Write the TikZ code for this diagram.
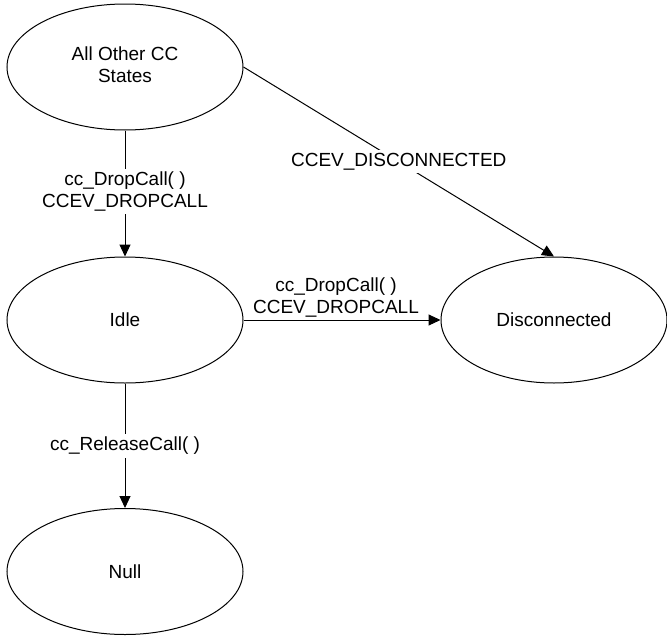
\documentclass[tikz,border=0pt]{standalone}
\usepackage{fontspec}
\setmainfont{Liberation Sans}
\usetikzlibrary{shapes.geometric,arrows.meta}
\begin{document}
\begin{tikzpicture}[x=1pt,y=-1pt,
  state/.style={draw=black,line width=1pt,ellipse,minimum width=236pt,minimum height=126pt,inner sep=0pt,align=center,font=\fontsize{19}{22}\selectfont},
  arr/.style={draw=black,line width=1pt,-{Triangle[length=12pt,width=11pt]}},
  lbl/.style={fill=white,inner sep=3pt,align=center,font=\fontsize{19}{22}\selectfont},
  lblabove/.style={inner sep=2pt,align=center,font=\fontsize{19}{22}\selectfont}]
\useasboundingbox (0,0) rectangle (667,637);
\node[state] (A) at (125,67) {\raisebox{-6pt}{\begin{tabular}{@{}c@{}}All Other CC\\States\end{tabular}}};
\node[state] (I) at (125,320) {Idle};
\node[state,minimum width=226pt] (D) at (554,320) {Disconnected};
\node[state] (N) at (125,571.5) {Null};
\draw[arr] (A) -- node[lbl,yshift=2pt] (l1) {cc\_DropCall( )\\CCEV\_DROPCALL} (I);
\draw[arr] (A.east) -- node[lbl] (l2) {CCEV\_DISCONNECTED} (D.north);
\draw[arr] (I) -- node[lblabove,above,xshift=-6pt] (l3) {cc\_DropCall( )\\CCEV\_DROPCALL} (D);
\draw[arr] (I) -- node[lbl] (l4) {cc\_ReleaseCall( )} (N);
\end{tikzpicture}
\end{document}
